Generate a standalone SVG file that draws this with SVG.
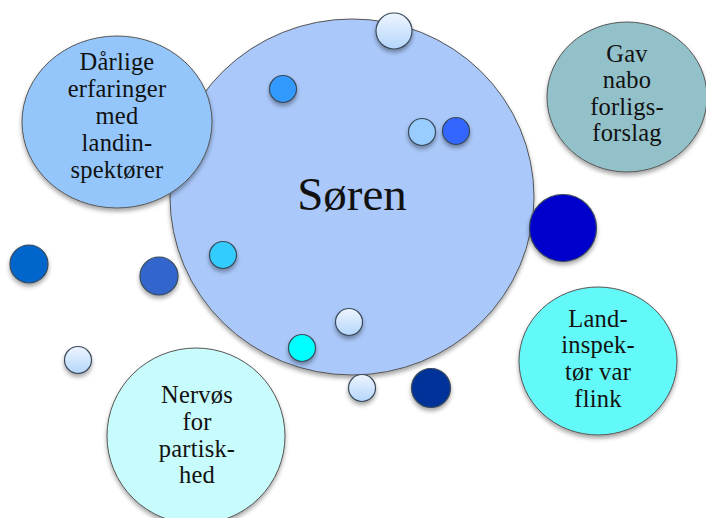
<svg xmlns="http://www.w3.org/2000/svg" width="706" height="518" viewBox="0 0 706 518">
<defs>
<filter id="sh" x="-20%" y="-20%" width="140%" height="150%">
<feDropShadow dx="0" dy="3" stdDeviation="2.2" flood-color="#000" flood-opacity="0.35"/>
</filter>
<linearGradient id="lg" x1="0" y1="0" x2="0" y2="1">
<stop offset="0" stop-color="#eef5ff"/>
<stop offset="1" stop-color="#b4d6fb"/>
</linearGradient>
</defs>
<style>
.big{stroke:#555;stroke-width:1;filter:url(#sh)}
.dot{stroke:#3a4a5a;stroke-width:1.2;filter:url(#sh)}
text{font-family:"Liberation Serif","Times New Roman",serif;fill:#111;text-anchor:middle}
.t{font-size:24.5px;letter-spacing:0.2px}
</style>
<rect width="706" height="518" fill="#fff"/>
<g id="soren">
<ellipse class="big" cx="352" cy="197" rx="182" ry="178" fill="#aac8fa"/>
<text x="352" y="210" font-size="47">Søren</text>
</g>
<g id="darlige">
<ellipse class="big" cx="117" cy="122" rx="95" ry="86" fill="#94c6fb"/>
<text class="t" x="117" y="70">Dårlige</text>
<text class="t" x="117" y="97">erfaringer</text>
<text class="t" x="117" y="124">med</text>
<text class="t" x="117" y="151">landin-</text>
<text class="t" x="117" y="178">spektører</text>
</g>
<g id="gav">
<ellipse class="big" cx="627" cy="97" rx="80" ry="75" fill="#93c1c9"/>
<text class="t" x="627" y="62">Gav</text>
<text class="t" x="627" y="88">nabo</text>
<text class="t" x="627" y="115">forligs-</text>
<text class="t" x="627" y="141">forslag</text>
</g>
<g id="land">
<ellipse class="big" cx="598" cy="361" rx="79" ry="74" fill="#64f9f9"/>
<text class="t" x="598" y="327">Land-</text>
<text class="t" x="598" y="353">inspek-</text>
<text class="t" x="598" y="380">tør var</text>
<text class="t" x="598" y="407">flink</text>
</g>
<g id="nervos">
<ellipse class="big" cx="196" cy="436" rx="89" ry="88" fill="#c8fbfb"/>
<text class="t" x="197" y="403">Nervøs</text>
<text class="t" x="197" y="430">for</text>
<text class="t" x="197" y="457">partisk-</text>
<text class="t" x="197" y="483">hed</text>
</g>
<g id="dots">
<circle id="d1" class="dot" cx="394" cy="31" r="18" fill="url(#lg)"/>
<circle id="d2" class="dot" cx="283" cy="89" r="13.5" fill="#3399ff"/>
<circle id="d3" class="dot" cx="422" cy="132" r="13.5" fill="#99ccff"/>
<circle id="d4" class="dot" cx="456" cy="131" r="13.5" fill="#3366ff"/>
<circle id="d5" class="dot" cx="563" cy="228" r="33.5" fill="#0000cc"/>
<circle id="d6" class="dot" cx="29" cy="264" r="19" fill="#0066cc"/>
<circle id="d7" class="dot" cx="159" cy="276" r="19" fill="#3366cc"/>
<circle id="d8" class="dot" cx="223" cy="255" r="13.5" fill="#33ccff"/>
<circle id="d9" class="dot" cx="349" cy="322" r="13.5" fill="url(#lg)"/>
<circle id="d10" class="dot" cx="302" cy="348" r="13.5" fill="#00ffff"/>
<circle id="d11" class="dot" cx="78" cy="360" r="13.5" fill="url(#lg)"/>
<circle id="d12" class="dot" cx="362" cy="388" r="13.5" fill="url(#lg)"/>
<circle id="d13" class="dot" cx="431" cy="388" r="19.5" fill="#003399"/>
</g>
</svg>
